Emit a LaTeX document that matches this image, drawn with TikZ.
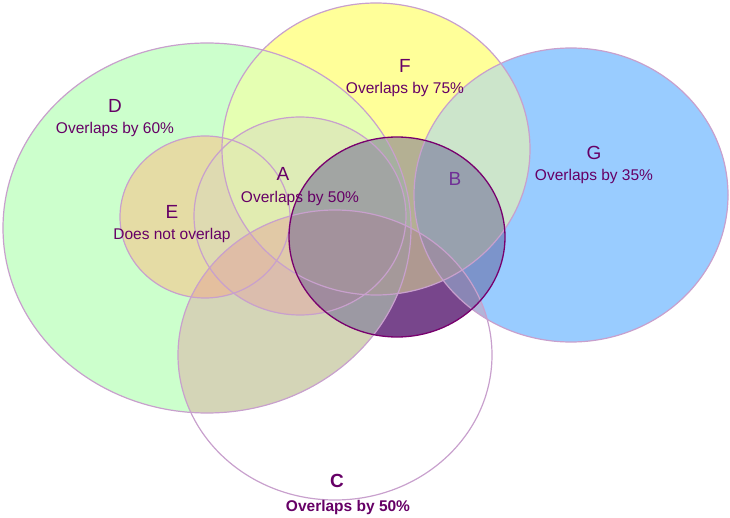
\documentclass[tikz,border=0pt]{standalone}
\usepackage{fontspec}
\setmainfont{Liberation Sans}
\usepackage[dvipsnames]{xcolor}

\definecolor{textpurple}{RGB}{102,0,102}
\definecolor{blabel}{RGB}{112,48,150}
\definecolor{linepink}{RGB}{200,160,205}
\definecolor{bline}{RGB}{120,0,110}
\definecolor{dgreen}{RGB}{204,255,204}
\definecolor{fyellow}{RGB}{255,255,153}
\definecolor{gblue}{RGB}{153,204,255}
\definecolor{eorange}{RGB}{255,185,126}
\definecolor{apink}{RGB}{230,180,175}
\definecolor{ctint}{RGB}{227,137,146}
\definecolor{bpurple}{RGB}{90,80,140}
\definecolor{bunder}{RGB}{145,62,140}

\newcommand{\ringD}{(207,228) ellipse [x radius=204, y radius=185]}
\newcommand{\ringF}{(376,149) ellipse [x radius=154, y radius=146]}
\newcommand{\ringG}{(571,195) ellipse [x radius=157, y radius=147]}
\newcommand{\ringA}{(300,216) ellipse [x radius=106, y radius=99]}
\newcommand{\ringE}{(205,217) ellipse [x radius=85, y radius=81]}
\newcommand{\ringB}{(397,237) ellipse [x radius=108, y radius=100]}
\newcommand{\ringC}{(335,355) ellipse [x radius=157, y radius=145]}

\begin{document}
\begin{tikzpicture}[x=1pt,y=-1pt,node distance=23pt,
    half/.style={fill opacity=0.5},
    ring/.style={draw=linepink,line width=1.2pt},
    letter/.style={text=textpurple,font=\fontsize{19}{21}\selectfont},
    caption/.style={text=textpurple,font=\fontsize{15.5}{18}\selectfont}]

            \useasboundingbox (0,0) rectangle (730,518);

            % part of B that only lies in C
            \begin{scope}
                \clip \ringC;
                \fill[bunder] \ringB;
            \end{scope}

            % solid colours first, then half colours in reverse
            \fill[dgreen] \ringD;
            \fill[fyellow] \ringF;
            \fill[gblue] \ringG;
            \fill[eorange] \ringE;
            \fill[apink] \ringA;

            \fill[apink,half] \ringA;
            \fill[eorange,half] \ringE;
            \fill[gblue,half] \ringG;
            \fill[fyellow,half] \ringF;
            \fill[dgreen,half] \ringD;

            % C only shows where it covers the others
            \begin{scope}
                \clip \ringC;
                \fill[ctint,fill opacity=0.35] \ringD \ringE \ringA \ringF \ringG;
            \end{scope}

            \fill[bpurple,fill opacity=0.45] \ringB;

            \draw[ring] \ringD;
            \draw[ring] \ringF;
            \draw[ring] \ringG;
            \draw[ring] \ringE;
            \draw[ring] \ringA;
            \draw[ring] \ringC;
            \draw[draw=bline,line width=1.3pt] \ringB;

            \node[letter] (D) at (115,106) {D};
            \node[caption] (d) [below of = D] {Overlaps by 60\%};
            \node[letter] (F) at (405,66) {F};
            \node[caption] (f) [below of = F] {Overlaps by 75\%};
            \node[letter] (G) at (594,153) {G};
            \node[caption] (g) [below of = G] {Overlaps by 35\%};
            \node[letter] (E) at (172,212) {E};
            \node[caption] (e) [below of = E] {Does not overlap};
            \node[letter] (A) at (283,174) {A};
            \node[caption] (a) at (300,198) {Overlaps by 50\%};
            \node[letter,text=blabel] (B) at (455,179) {B};
            \node[letter,font=\bfseries\fontsize{19}{21}\selectfont] (C) at (337,481) {C};
            \node[caption,font=\bfseries\fontsize{15.5}{18}\selectfont] (c) at (348,507) {Overlaps by 50\%};
        \end{tikzpicture}
\end{document}
